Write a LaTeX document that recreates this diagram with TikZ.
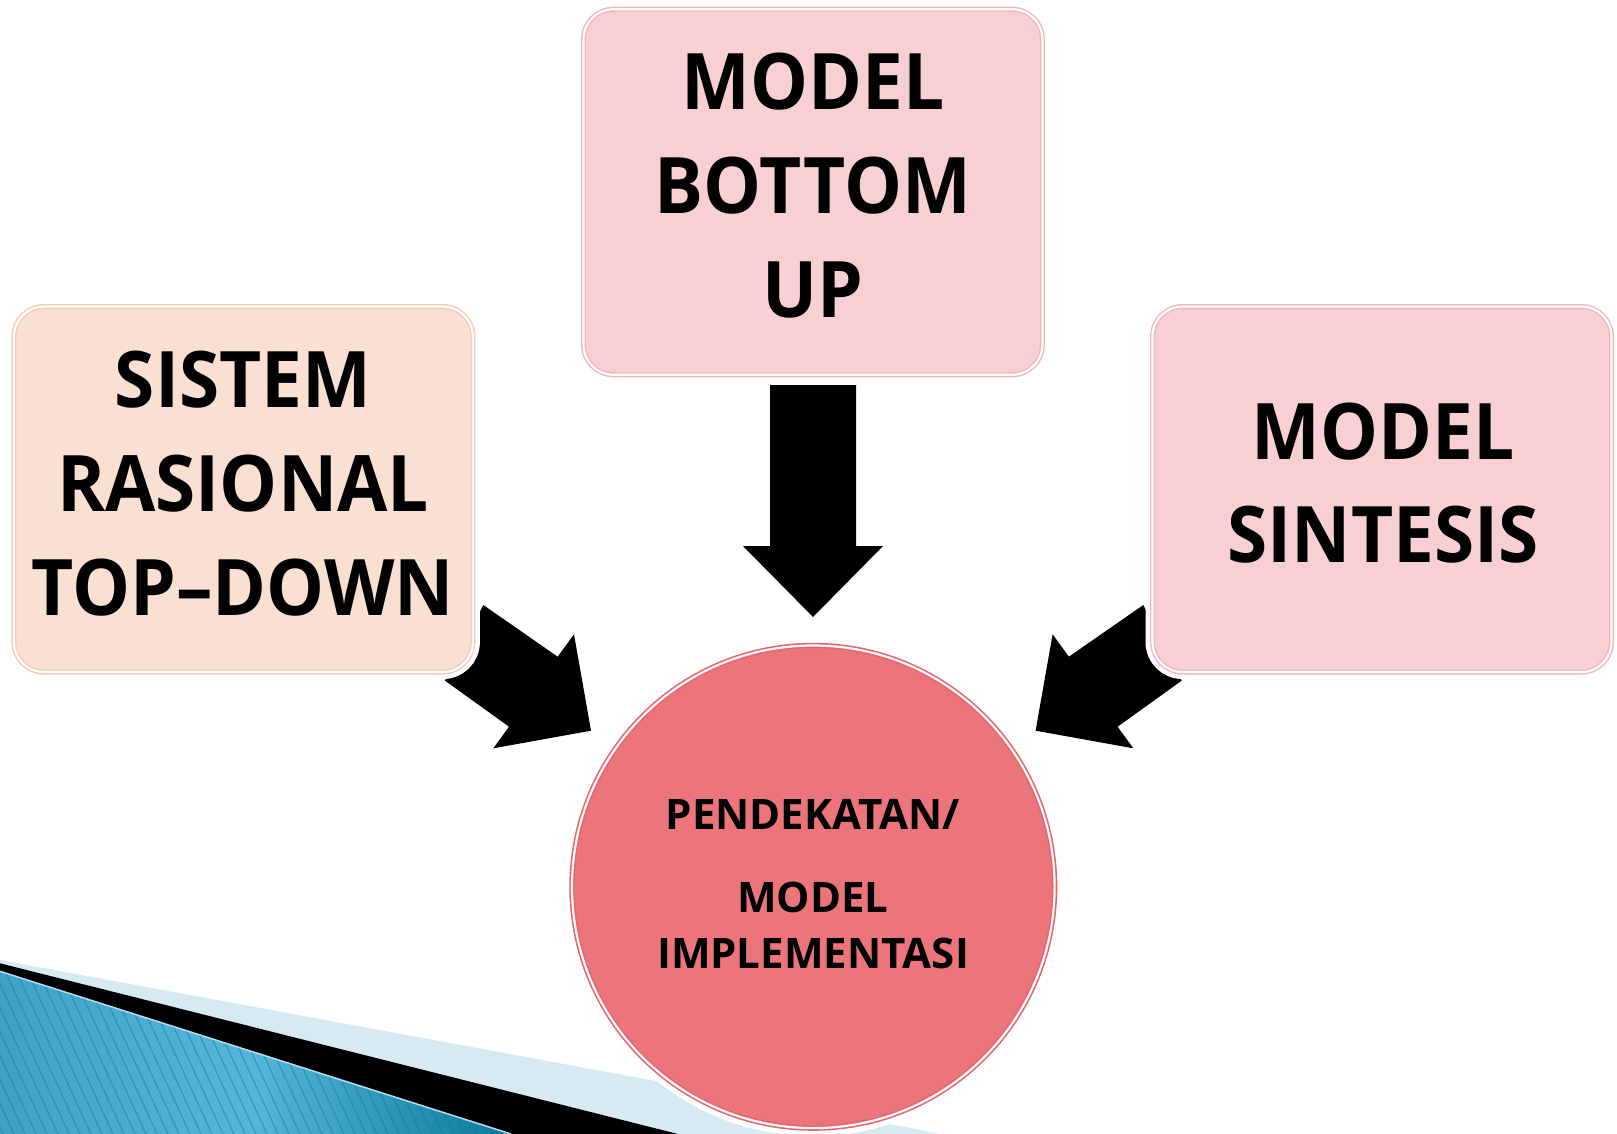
\documentclass[tikz,border=0pt]{standalone}
\usepackage{fontspec}
\setmainfont{Open Sans}
\newfontfamily\bigfont{Open Sans}[FakeStretch=0.935]
\definecolor{peach}{HTML}{FADFD3}
\definecolor{peachline}{HTML}{F6C9B8}
\definecolor{rose}{HTML}{F8D0D3}
\definecolor{roseline}{HTML}{F2B6BB}
\definecolor{circfill}{HTML}{EC757C}
\definecolor{circline}{HTML}{E8646D}
\definecolor{paleblue}{HTML}{D7EAF2}
\definecolor{blueL}{HTML}{3EA2C7}
\definecolor{blueM}{HTML}{55B6D9}
\definecolor{blueR}{HTML}{0B7A9B}
\begin{document}
\begin{tikzpicture}[x=1pt,y=-1pt,
  boxnode/.style={rectangle, rounded corners=30pt, minimum width=459pt, minimum height=365.5pt,
    inner sep=0pt, line width=1.4pt, double=white, double distance=2.2pt,
    preaction={draw=white, line width=14pt}},
  bigtxt/.style={anchor=base, inner sep=0pt, font=\bigfont\bfseries\fontsize{78}{94}\selectfont},
  smalltxt/.style={anchor=base, inner sep=0pt, font=\bfseries\fontsize{42}{50}\selectfont},
  blockarrow/.style={fill=black}]

\useasboundingbox (0,0) rectangle (1617,1134);
\fill[white] (0,0) rectangle (1617,1134);

% bottom-left decoration
\fill[paleblue] (0,960) -- (897,1125.5) -- (940,1134) -- (0,1134) -- cycle;
\fill[black] (0,963.3) -- (678,1134) -- (0,1134) -- cycle;
\shade[left color=blueL, right color=blueR, middle color=blueM] (0,971.3) -- (511,1134) -- (0,1134) -- cycle;
\begin{scope}
  \clip (0,971.3) -- (511,1134) -- (0,1134) -- cycle;
  \foreach \i in {-20,...,50}
    \draw[blueR, opacity=0.45, line width=1.2pt] (\i*11,960) -- (\i*11+80,1134);
\end{scope}
\draw[white!55!blueM, line width=1.5pt] (0,971.3) -- (511,1134);

% block arrows
\fill[blockarrow] (483.3,605) -- (557.7,656.7) -- (574,634.3) -- (591,730.7) -- (493.3,748.3) -- (509,726.7) -- (445,680.7) -- cycle;
\fill[blockarrow] (1143.3,605) -- (1068.9,656.7) -- (1052.6,634.3) -- (1035.6,730.7) -- (1133.3,748.3) -- (1117.6,726.7) -- (1181.6,680.7) -- cycle;
\fill[blockarrow] (770,385) -- (856,385) -- (856,546) -- (883,546) -- (813,617) -- (743,546) -- (770,546) -- cycle;

% boxes
\node[boxnode, fill=peach, draw=peachline] (sistem) at (243.4,489.3) {};
\node[boxnode, fill=rose, draw=roseline] (bottomup) at (812.9,192) {};
\node[boxnode, fill=rose, draw=roseline] (sintesis) at (1382,489.3) {};

% circle
\node[circle, fill=circfill, draw=circline, line width=1.6pt, double=white, double distance=2.2pt,
  minimum size=482.6pt, inner sep=0pt, preaction={draw=white, line width=16pt}] (impl) at (813.3,886.8) {};

% texts
\node[bigtxt] (s1) at (243,407.3) {SISTEM};
\node[bigtxt] (s2) at (243,511.5) {RASIONAL};
\node[bigtxt] (s3) at (243,615) {TOP–DOWN};

\node[bigtxt] (b1) at (813,110) {MODEL};
\node[bigtxt] (b2) at (813,213.5) {BOTTOM};
\node[bigtxt] (b3) at (813,317) {UP};

\node[bigtxt] (n1) at (1383,459) {MODEL};
\node[bigtxt] (n2) at (1383,562) {SINTESIS};

\node[smalltxt] (c1) at (813,829.5) {PENDEKATAN/};
\node[smalltxt] (c2) at (813,912) {MODEL};
\node[smalltxt] (c3) at (813,968.5) {IMPLEMENTASI};
\end{tikzpicture}
\end{document}
